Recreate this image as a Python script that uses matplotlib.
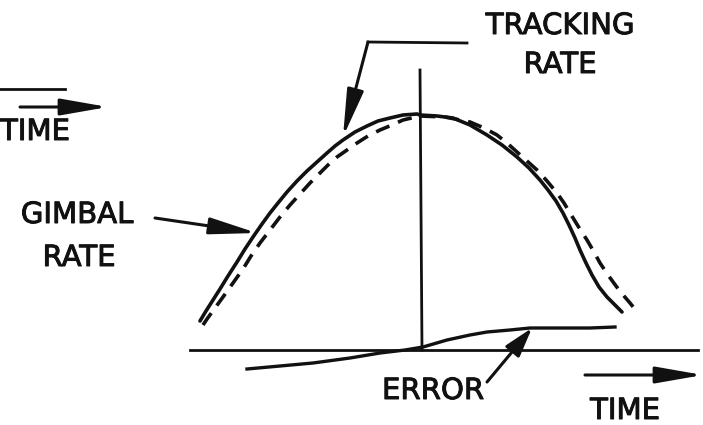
import matplotlib.pyplot as plt
import matplotlib.patheffects as pe

# everything is laid out in the picture's own pixel frame (y grows downwards)
W, H = 703, 425

# tracking rate (solid)
track_x = [200, 206, 213, 220, 228, 237, 245, 253, 262, 270, 278, 287, 297, 307,
           317, 327, 335, 343, 355, 367, 378, 390, 403, 417, 420, 437, 453, 470,
           487, 502, 517, 529, 540, 548, 556, 563, 569, 575, 580, 586, 592, 599,
           607, 615, 622]
track_y = [321, 311, 300, 289, 276, 262, 249, 237, 224, 213, 203, 192, 181, 171,
           162, 153, 146, 140, 132, 126, 121, 118, 115, 114, 115, 116, 118, 125,
           135, 145, 157, 168, 180, 190, 201, 213, 225, 238, 250, 263, 275, 287,
           297, 305, 312]

# gimbal rate (dashed), lags the tracking rate
gimbal_x = [203, 207, 215, 223, 233, 243, 251, 260, 270, 280, 290, 300, 310, 320,
            328, 337, 347, 357, 368, 380, 392, 403, 420, 445, 470, 484, 497, 507,
            517, 527, 537, 547, 557, 564, 570, 578, 587, 594, 600, 608, 616, 624,
            630, 634]
gimbal_y = [325, 319, 308, 297, 283, 269, 256, 243, 230, 217, 205, 194, 183, 173,
            165, 157, 150, 143, 136, 130, 125, 120, 116, 117, 122, 128, 135, 143,
            152, 161, 170, 181, 193, 203, 213, 226, 240, 252, 263, 275, 286, 296,
            303, 308]

# error trace on the lower time axis
err_x = [247, 280, 313, 350, 380, 405, 423, 447, 470, 487, 510, 530, 560, 590, 615]
err_y = [369, 366, 363, 358, 353, 350, 347, 340, 335, 332, 330, 328, 328, 328, 327]

ink = '#111111'
lw = 2.2
font = dict(family='DejaVu Sans', color=ink, fontsize=21,
            path_effects=[pe.withStroke(linewidth=0.7, foreground=ink)])

fig = plt.figure(figsize=(W / 100, H / 100), dpi=100)
ax = fig.add_axes([0, 0, 1, 1])
ax.set_xlim(0, W)
ax.set_ylim(H, 0)
ax.axis('off')

def arrow(x0, y0, x1, y1, hl=1.6, hw=0.28):
    ax.annotate('', xy=(x1, y1), xytext=(x0, y0),
                arrowprops=dict(arrowstyle=f'-|>,head_length={hl},head_width={hw}',
                                mutation_scale=18, lw=lw, color=ink,
                                shrinkA=0, shrinkB=0))

# curves
ax.plot(track_x, track_y, color=ink, lw=2.6, solid_capstyle='round',
        solid_joinstyle='round')
ax.plot(gimbal_x, gimbal_y, color=ink, lw=2.6, linestyle=(0, (4, 2.6)))
ax.plot(err_x, err_y, color=ink, lw=2.4, solid_joinstyle='round')

# axes of the sketch
ax.plot([190, 698], [350, 350], color=ink, lw=2)
ax.plot([420, 422], [70, 350], color=ink, lw=2)

# upper left time arrow
ax.plot([0, 65], [89, 89], color=ink, lw=2)
arrow(20, 107, 108, 107)
ax.text(0, 132, 'TIME', ha='left', va='center', **font)

# lower right time arrow
arrow(585, 375, 703, 375)
ax.text(625, 411, 'TIME', ha='center', va='center', **font)

# labels with leaders
ax.text(77, 215, 'GIMBAL', ha='center', va='center', **font)
ax.text(79, 258, 'RATE', ha='center', va='center', **font)
arrow(155, 218, 257, 233)

ax.text(560, 26, 'TRACKING', ha='center', va='center', **font)
ax.text(560, 65, 'RATE', ha='center', va='center', **font)
ax.plot([467, 368], [43, 42], color=ink, lw=2)
arrow(368, 42, 343, 137)

ax.text(433, 391, 'ERROR', ha='center', va='center', **font)
arrow(487, 382, 532, 328, hl=1.0, hw=0.3)

fig.savefig('out.png', dpi=100)
